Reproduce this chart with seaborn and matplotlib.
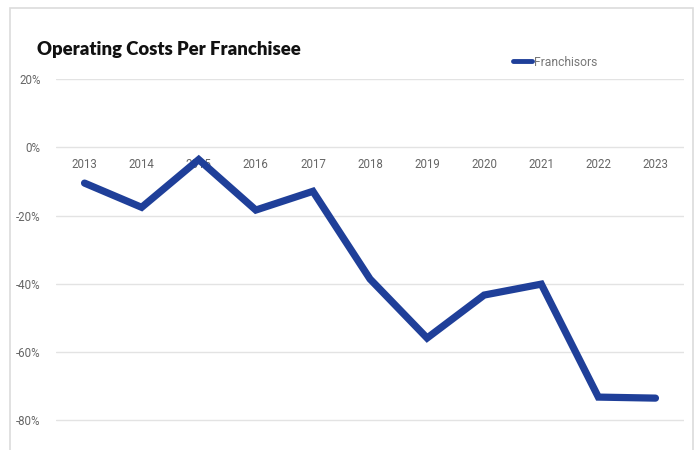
import matplotlib
matplotlib.use("Agg")
import matplotlib.pyplot as plt
from matplotlib.patches import Rectangle
from matplotlib.ticker import FuncFormatter
import seaborn as sns
import pandas as pd

years = ["2013", "2014", "2015", "2016", "2017", "2018",
         "2019", "2020", "2021", "2022", "2023"]
franchisors = [-10.5, -17.6, -3.6, -18.4, -12.9, -38.6,
               -55.9, -43.3, -40.1, -73.2, -73.5]
y_ticks = [20, 0, -20, -40, -60, -80]
series_name = "Franchisors"
title = "Operating Costs Per Franchisee"

sns.set_theme(style="white")
plt.rcParams["font.family"] = ["Roboto", "DejaVu Sans"]

df = pd.DataFrame({"year": years, "value": franchisors, "series": series_name})

W, H = 700, 450
fig = plt.figure(figsize=(W / 100, H / 100), dpi=100)
fig.patch.set_facecolor("white")

# light outer card border
fig.patches.append(Rectangle((10 / W, -0.1), 683 / W, 1.1 - 8 / H,
                             transform=fig.transFigure, fill=False,
                             edgecolor="#dcdcdc", linewidth=1.2))

ax = fig.add_axes([56 / W, 0, 628 / W, 371 / H])
line_color = "#1f3f99"
sns.lineplot(data=df, x="year", y="value", hue="series", palette=[line_color],
             linewidth=5.2, ax=ax, sort=False, legend=True)
for ln in ax.get_lines():
    ln.set_solid_capstyle("round")
    ln.set_solid_joinstyle("miter")

ax.set_xlim(-0.5, len(years) - 0.5)
ax.set_ylim(-88.7, 20)
ax.set_yticks(y_ticks)
ax.yaxis.set_major_formatter(FuncFormatter(lambda v, p: f"{int(v)}%"))
ax.grid(axis="y", color="#e3e3e3", linewidth=1)
ax.set_axisbelow(True)
for s in ["left", "right", "top"]:
    ax.spines[s].set_visible(False)
ax.spines["bottom"].set_position(("data", 0))
ax.spines["bottom"].set_visible(False)
ax.tick_params(axis="x", length=0, pad=8, labelsize=8.3, labelcolor="#666666")
ax.tick_params(axis="y", length=0, pad=11, labelsize=8.3, labelcolor="#666666")
ax.set_xlabel("")
ax.set_ylabel("")

leg = ax.legend(loc="center left", bbox_to_anchor=(513 / W, 1 - 62 / H),
                bbox_transform=fig.transFigure, frameon=False,
                handlelength=1.6, handletextpad=0.15, borderpad=0,
                borderaxespad=0, prop={"size": 8.7})
for t in leg.get_texts():
    t.set_color("#777777")
for h in leg.get_lines():
    h.set_linewidth(3.5)
    h.set_solid_capstyle("round")

fig.text(37 / W, 1 - 49 / H, title, fontsize=13.3, fontweight="heavy",
         color="#111111", va="center", ha="left",
         family=["Lato", "DejaVu Sans"])

fig.savefig("out.png", dpi=100)
